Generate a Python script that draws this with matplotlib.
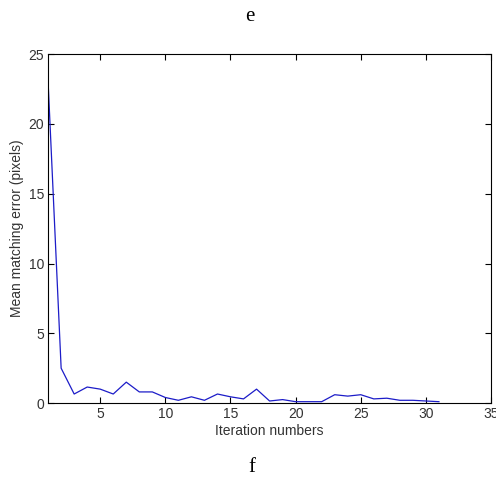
import matplotlib
matplotlib.use("Agg")
import matplotlib.pyplot as plt

plt.rcParams["font.family"] = ["Liberation Sans", "DejaVu Sans"]

# mean matching error per iteration
iterations = list(range(1, 32))
errors = [23.0, 2.5, 0.65, 1.15, 1.0, 0.65, 1.5, 0.8, 0.8, 0.4,
          0.2, 0.45, 0.2, 0.65, 0.45, 0.3, 1.0, 0.15, 0.25, 0.1,
          0.1, 0.1, 0.6, 0.5, 0.6, 0.3, 0.35, 0.2, 0.2, 0.15, 0.1]
xticks = [5, 10, 15, 20, 25, 30, 35]
yticks = [0, 5, 10, 15, 20, 25]

fig = plt.figure(figsize=(4.96, 4.88), dpi=100)
ax = fig.add_axes([0.097, 0.174, 0.893, 0.715])
ax.plot(iterations, errors, color="#1c1cc8", lw=0.9)

ax.set_xlim(1, 35)
ax.set_ylim(0, 25)
ax.set_xticks(xticks)
ax.set_yticks(yticks)
ax.tick_params(direction="in", top=True, right=True, length=4, width=0.8,
               labelsize=10, labelcolor="#333333", pad=3)
for s in ax.spines.values():
    s.set_linewidth(0.8)

ax.set_xlabel("Iteration numbers", fontsize=10, color="#333333", labelpad=2)
ax.set_ylabel("Mean matching error (pixels)", fontsize=10, color="#333333", labelpad=3)

fig.text(0.504, 0.966, "e", family="Liberation Serif", fontsize=15, ha="center", va="center")
fig.text(0.508, 0.043, "f", family="Liberation Serif", fontsize=15, ha="center", va="center")

fig.savefig("out.png", dpi=100)
